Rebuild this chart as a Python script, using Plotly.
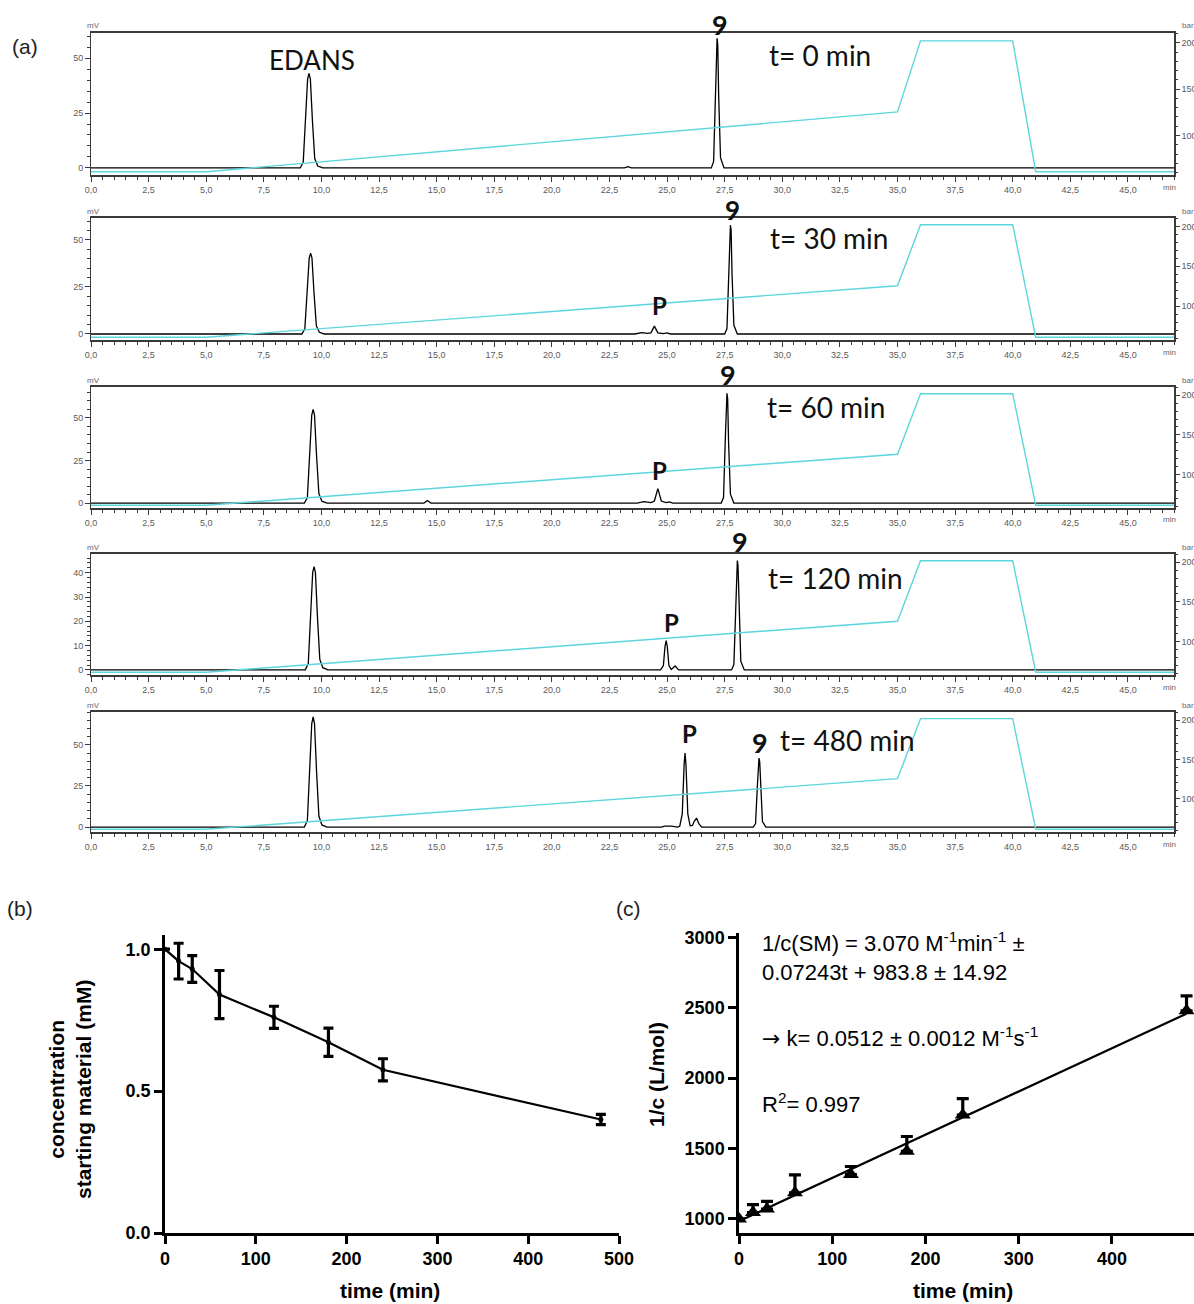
import plotly.graph_objects as go

W, H = 1194, 1304


def fx(px):
    return px / W


def fy(py):
    return 1 - py / H


# ---------------- HPLC traces (retention time in min, signal in mV) ----------------
time_0 = [0.0, 9.08, 9.21, 9.31, 9.40, 9.46, 9.52, 9.61, 9.71, 9.84, 10.06,
          23.15, 23.30, 23.45,
          26.92, 27.02, 27.10, 27.14, 27.17, 27.20, 27.24, 27.32, 27.47, 47.0]
mv_0 = [0, 0, 2.6, 21.5, 40.4, 43, 40.4, 21.5, 4.3, 0.9, 0,
        0, 0.6, 0,
        0, 3.0, 35.4, 56.0, 59, 56.0, 32.5, 4.7, 0, 0]

time_30 = [0.0, 9.15, 9.28, 9.38, 9.47, 9.53, 9.59, 9.68, 9.78, 9.91, 10.13,
           23.6, 23.9, 24.15, 24.3, 24.45, 24.6, 24.85, 25.0, 25.15,
           27.50, 27.60, 27.68, 27.72, 27.75, 27.78, 27.82, 27.90, 28.05, 47.0]
mv_30 = [0, 0, 2.6, 21.5, 40.4, 43, 40.4, 21.5, 4.3, 0.9, 0,
         0, 0.7, 0.3, 0.6, 4.2, 0.6, 0.2, 0.6, 0,
         0, 2.9, 34.8, 55.1, 58, 55.1, 31.9, 4.6, 0, 0]

time_60 = [0.0, 9.26, 9.39, 9.49, 9.58, 9.64, 9.70, 9.79, 9.89, 10.02, 10.24,
           14.45, 14.6, 14.75,
           23.7, 24.0, 24.3, 24.45, 24.6, 24.75, 24.95, 25.1, 25.25,
           27.35, 27.45, 27.53, 27.57, 27.60, 27.63, 27.67, 27.75, 27.90, 47.0]
mv_60 = [0, 0, 3.3, 27.5, 51.7, 55, 51.7, 27.5, 5.5, 1.1, 0,
         0, 1.5, 0,
         0, 0.8, 0.3, 1.2, 8.5, 1.2, 0.3, 0.7, 0,
         0, 3.2, 38.7, 61.3, 64.5, 61.3, 35.5, 5.2, 0, 0]

time_120 = [0.0, 9.30, 9.43, 9.53, 9.62, 9.68, 9.74, 9.83, 9.93, 10.06, 10.28,
            24.72, 24.84, 24.91, 24.96, 25.01, 25.08, 25.18, 25.35, 25.5,
            27.80, 27.90, 27.98, 28.02, 28.05, 28.08, 28.12, 28.20, 28.35, 47.0]
mv_120 = [0, 0, 2.6, 21.3, 40, 42.5, 40, 21.3, 4.3, 0.9, 0,
          0, 1.8, 9.6, 12, 9.6, 1.8, 0.2, 1.6, 0,
          0, 2.3, 27, 42.8, 45, 42.8, 24.8, 3.6, 0, 0]

time_480 = [0.0, 9.26, 9.39, 9.49, 9.58, 9.64, 9.70, 9.79, 9.89, 10.02, 10.24,
            24.75, 24.9, 25.2, 25.45,
            25.55, 25.66, 25.74, 25.78, 25.82, 25.90, 26.00,
            26.10, 26.18, 26.28, 26.38, 26.5,
            28.74, 28.84, 28.92, 28.96, 28.99, 29.02, 29.06, 29.14, 29.29, 47.0]
mv_480 = [0, 0, 4.0, 33.5, 63, 67, 63, 33.5, 6.7, 1.3, 0,
          0, 0.6, 0.6, 0,
          0.5, 8, 38, 45, 38, 8, 0.8,
          1, 3.5, 5.5, 2, 0,
          0, 2.1, 25.2, 39.9, 42, 39.9, 23.1, 3.4, 0, 0]

# pump pressure profile (bar)
grad_t = [0, 5, 35, 36, 40, 41, 47]
grad_bar = [61, 61, 125.5, 202, 202, 61, 61]

run_labels = ["t= 0 min", "t= 30 min", "t= 60 min", "t= 120 min", "t= 480 min"]
x_tick_vals = [0, 2.5, 5, 7.5, 10, 12.5, 15, 17.5, 20, 22.5, 25, 27.5, 30,
               32.5, 35, 37.5, 40, 42.5, 45]
x_tick_text = ["0,0", "2,5", "5,0", "7,5", "10,0", "12,5", "15,0", "17,5",
               "20,0", "22,5", "25,0", "27,5", "30,0", "32,5", "35,0", "37,5",
               "40,0", "42,5", "45,0"]

# ---------------- kinetics ----------------
time_min = [0, 15, 30, 60, 120, 180, 240, 480]
conc_mM = [1.0, 0.958, 0.93, 0.84, 0.76, 0.672, 0.575, 0.40]
conc_err = [0, 0.063, 0.047, 0.085, 0.039, 0.05, 0.039, 0.018]
inv_conc = [1000, 1045, 1070, 1185, 1315, 1480, 1737, 2478]
inv_err_up = [0, 57, 55, 128, 57, 105, 117, 105]
fit_slope = 3.070
fit_intercept = 983.8
fit_t = [0, 480]

panels = [
    dict(top=33, bot=175, yr=[-3.2, 61.4], yt=[0, 25, 50], ym=5,
         t=time_0, s=mv_0),
    dict(top=218, bot=340, yr=[-3.2, 61.7], yt=[0, 25, 50], ym=5,
         t=time_30, s=mv_30),
    dict(top=387, bot=508, yr=[-2.9, 68.2], yt=[0, 25, 50], ym=5,
         t=time_60, s=mv_60),
    dict(top=554, bot=675, yr=[-2.1, 47.7], yt=[0, 10, 20, 30, 40], ym=2,
         t=time_120, s=mv_120),
    dict(top=712, bot=832, yr=[-3.0, 70.0], yt=[0, 25, 50], ym=5,
         t=time_480, s=mv_480),
]

fig = go.Figure()
layout = {}
annotations = []

AX = "#3a3a3a"
TICKF = dict(family="Arial", size=9, color="#5a5a5a")
CYAN = "#5cd6dc"
XL, XR = 91, 1174


def note(px, py, text, font, xanchor="center", **kw):
    return dict(x=fx(px), y=fy(py), xref="paper", yref="paper", text=text,
                showarrow=False, xanchor=xanchor, yanchor="middle",
                font=font, **kw)


SMALL = dict(family="Arial", size=8, color="#666666")

for i, p in enumerate(panels):
    xi = i + 1
    yl = 2 * i + 1
    yr = 2 * i + 2
    xname = "x" if xi == 1 else f"x{xi}"
    ylname = "y" if yl == 1 else f"y{yl}"
    yrname = f"y{yr}"
    fig.add_trace(go.Scatter(x=grad_t, y=grad_bar, mode="lines",
                             line=dict(color=CYAN, width=1.4),
                             xaxis=xname, yaxis=yrname, showlegend=False,
                             hoverinfo="skip"))
    fig.add_trace(go.Scatter(x=p["t"], y=p["s"], mode="lines",
                             line=dict(color="black", width=1.3),
                             xaxis=xname, yaxis=ylname, showlegend=False))
    dom_y = [fy(p["bot"]), fy(p["top"])]
    layout["xaxis" if xi == 1 else f"xaxis{xi}"] = dict(
        domain=[fx(XL), fx(XR)], range=[0, 47], anchor=ylname,
        showline=True, linecolor=AX, linewidth=1.6, mirror=True,
        ticks="outside", ticklen=5, tickcolor=AX, tickwidth=1,
        tickvals=x_tick_vals, ticktext=x_tick_text, tickfont=TICKF,
        minor=dict(dtick=0.5, tick0=0, ticklen=3, tickcolor=AX, tickwidth=1,
                   ticks="outside", showgrid=False),
        showgrid=False, zeroline=False, fixedrange=True, automargin=False)
    layout["yaxis" if yl == 1 else f"yaxis{yl}"] = dict(
        domain=dom_y, range=p["yr"], anchor=xname,
        showline=True, linecolor=AX, linewidth=1,
        ticks="outside", ticklen=5, tickcolor=AX, tickwidth=1,
        tickvals=p["yt"], tickfont=TICKF,
        minor=dict(dtick=p["ym"], tick0=0, ticklen=3, tickcolor=AX,
                   tickwidth=1, ticks="outside", showgrid=False),
        showgrid=False, zeroline=False, fixedrange=True, automargin=False)
    layout[f"yaxis{yr}"] = dict(
        domain=dom_y, range=[57.5, 210.5], anchor=xname,
        overlaying=ylname, side="right",
        showline=True, linecolor=AX, linewidth=1.6,
        ticks="outside", ticklen=4, tickcolor=AX, tickwidth=1,
        tickvals=[100, 150, 200], tickfont=TICKF,
        minor=dict(dtick=10, tick0=0, ticklen=2, tickcolor=AX, tickwidth=1,
                   ticks="outside", showgrid=False),
        showgrid=False, zeroline=False, fixedrange=True, automargin=False)
    annotations.append(note(XL - 6, p["top"] - 7, "mV", SMALL, "left"))
    annotations.append(note(1180, p["top"] - 7, "bar", SMALL, "left"))
    annotations.append(note(1161, p["bot"] + 12, "min", SMALL, "left"))

# Peak and run labels
LBL = "Lato"
peak_labels = [
    # (x px, y px, text, size, bold)
    (312, 60, "EDANS", 26, False),
    (720, 24, "9", 27, True), (820, 55, run_labels[0], 28, False),
    (732, 210, "9", 26, True), (829, 238, run_labels[1], 28, False),
    (659, 306, "P", 24, True),
    (728, 374, "9", 27, True), (826, 407, run_labels[2], 28, False),
    (659, 470, "P", 24, True),
    (740, 542, "9", 27, True), (835, 578, run_labels[3], 28, False),
    (671, 622, "P", 24, True),
    (690, 733, "P", 24, True), (760, 742, "9", 27, True),
    (847, 740, run_labels[4], 28, False),
]
for (px, py, txt, sz, bold) in peak_labels:
    annotations.append(note(px, py, txt,
                            dict(family=LBL, size=sz, color="#111111",
                                 weight="bold" if bold else "normal")))

for (px, py, txt) in [(25, 47, "(a)"), (20, 908, "(b)"), (628, 908, "(c)")]:
    annotations.append(note(px, py, txt,
                            dict(family="Arial", size=21, color="#222222")))

# ---------------- (b) concentration vs time ----------------
BOLD = dict(family="Arial", size=18, color="black", weight="bold")
fig.add_trace(go.Scatter(
    x=time_min, y=conc_mM, mode="lines+markers",
    line=dict(color="black", width=2.2),
    marker=dict(color="black", size=5),
    error_y=dict(type="data", array=conc_err, visible=True,
                 color="black", thickness=3.2, width=5),
    xaxis="x6", yaxis="y11", showlegend=False))
layout["xaxis6"] = dict(
    domain=[fx(165), fx(619)], range=[0, 500], anchor="y11",
    showline=True, linecolor="black", linewidth=2.5,
    ticks="outside", ticklen=8, tickwidth=2.5, tickcolor="black",
    tickvals=[0, 100, 200, 300, 400, 500], tickfont=BOLD,
    showgrid=False, zeroline=False, fixedrange=True, automargin=False)
layout["yaxis11"] = dict(
    domain=[fy(1233), fy(935)], range=[0, 1.05], anchor="x6",
    showline=True, linecolor="black", linewidth=2.5,
    ticks="outside", ticklen=8, tickwidth=2.5, tickcolor="black",
    tickvals=[0, 0.5, 1.0], ticktext=["0.0", "0.5", "1.0"], tickfont=BOLD,
    showgrid=False, zeroline=False, fixedrange=True, automargin=False)

# ---------------- (c) 1/c vs time ----------------
fig.add_trace(go.Scatter(
    x=fit_t, y=[fit_slope * t + fit_intercept for t in fit_t], mode="lines",
    line=dict(color="black", width=2.2),
    xaxis="x7", yaxis="y12", showlegend=False))
fig.add_trace(go.Scatter(
    x=time_min, y=inv_conc, mode="markers",
    marker=dict(color="black", size=14, symbol="triangle-up"),
    error_y=dict(type="data", symmetric=False, array=inv_err_up,
                 arrayminus=[0] * len(inv_err_up), visible=True,
                 color="black", thickness=3.2, width=6),
    xaxis="x7", yaxis="y12", showlegend=False))
layout["xaxis7"] = dict(
    domain=[fx(739), 1.0], range=[0, 488], anchor="y12",
    showline=True, linecolor="black", linewidth=2.5,
    ticks="outside", ticklen=8, tickwidth=2.5, tickcolor="black",
    tickvals=[0, 100, 200, 300, 400], tickfont=BOLD,
    showgrid=False, zeroline=False, fixedrange=True, automargin=False)
layout["yaxis12"] = dict(
    domain=[fy(1233), fy(933)], range=[900, 3030], anchor="x7",
    showline=True, linecolor="black", linewidth=2.5,
    ticks="outside", ticklen=8, tickwidth=2.5, tickcolor="black",
    tickvals=[1000, 1500, 2000, 2500, 3000], tickfont=BOLD,
    showgrid=False, zeroline=False, fixedrange=True, automargin=False)

TITLE = dict(family="Arial", size=21, color="black", weight="bold")
annotations += [
    note(390, 1290, "time (min)", TITLE),
    note(963, 1290, "time (min)", TITLE),
    note(70, 1090, "concentration<br>starting material (mM)", TITLE,
         textangle=-90),
    note(656, 1075, "1/c (L/mol)", TITLE, textangle=-90),
]

EQ = dict(family="Arial", size=22, color="black")
ARROW = "<span style=\"font-family:'DejaVu Sans'\">\u2192</span>"
eq_lines = [
    (942, "1/c(SM) = 3.070 M<sup>-1</sup>min<sup>-1</sup> \u00b1"),
    (972, "0.07243t + 983.8 \u00b1 14.92"),
    (1037, ARROW + " k= 0.0512 \u00b1 0.0012 M<sup>-1</sup>s<sup>-1</sup>"),
    (1103, "R<sup>2</sup>= 0.997"),
]
for py, txt in eq_lines:
    annotations.append(note(760, py, txt, EQ, "left"))

fig.update_layout(
    width=W, height=H, margin=dict(l=0, r=0, t=0, b=0),
    paper_bgcolor="white", plot_bgcolor="white",
    annotations=annotations, **layout)

fig.write_html("out.html")
